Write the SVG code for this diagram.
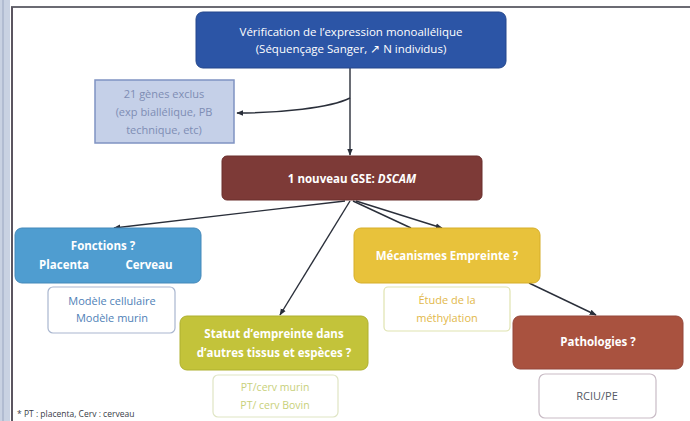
<svg xmlns="http://www.w3.org/2000/svg" width="690" height="421" viewBox="0 0 690 421">
<defs>
<marker id="ah" viewBox="0 0 10 10" refX="9" refY="5" markerWidth="7" markerHeight="7" orient="auto-start-reverse" markerUnits="userSpaceOnUse">
<path d="M0,1 L10,5 L0,9 Z" fill="#2a2f3a"/>
</marker>
<style>
text{font-family:"Open Sans","Liberation Sans",sans-serif;text-anchor:middle}
.w{fill:#ffffff;font-weight:bold;font-size:11.5px}
.c{stroke:#2a2f3a;stroke-width:1.4;fill:none}
</style>
</defs>
<rect x="0" y="0" width="690" height="421" fill="#ffffff"/>
<rect x="0" y="0" width="10" height="421" fill="#c9d2e2"/>
<line x1="3" y1="0" x2="3" y2="421" stroke="#9aa6c0" stroke-width="1"/>
<line x1="11" y1="7" x2="690" y2="7" stroke="#6b6b73" stroke-width="2"/>
<line x1="12" y1="7" x2="12" y2="421" stroke="#5b5560" stroke-width="2"/>

<g id="connectors">
<line class="c" x1="350" y1="68" x2="350" y2="155" marker-end="url(#ah)"/>
<path class="c" d="M350,98 C330,108 280,113 237,113" marker-end="url(#ah)"/>
<line class="c" x1="345" y1="201" x2="114" y2="228" marker-end="url(#ah)"/>
<line class="c" x1="350" y1="201" x2="280" y2="315" marker-end="url(#ah)"/>
<line class="c" x1="353" y1="201" x2="411" y2="228"/>
<line class="c" x1="356" y1="201" x2="442" y2="228" marker-end="url(#ah)"/>
<line class="c" x1="529" y1="283" x2="596" y2="315" marker-end="url(#ah)"/>
</g>

<g id="verification">
<rect x="196" y="12" width="310" height="56" rx="7" fill="#2c55a6" stroke="#24478c" stroke-width="1"/>
<text class="w" x="351" y="36" style="font-weight:normal">Vérification de l’expression monoallélique</text>
<text class="w" x="351" y="53" style="font-weight:normal">(Séquençage Sanger, ↗ N individus)</text>
</g>

<g id="exclus">
<rect x="95" y="80" width="139" height="63" fill="#c5d0e8" stroke="#7f93c2" stroke-width="1.5"/>
<text x="164" y="98" font-size="11" fill="#7e8db4">21 gènes exclus</text>
<text x="164" y="116" font-size="11" fill="#7e8db4">(exp biallélique, PB</text>
<text x="164" y="134" font-size="11" fill="#7e8db4">technique, etc)</text>
</g>

<g id="gse">
<rect x="222" y="156" width="260" height="44" rx="5" fill="#7d3a37" stroke="#6a2e2c" stroke-width="1"/>
<text class="w" x="352" y="183">1 nouveau GSE: <tspan font-style="italic">DSCAM</tspan></text>
</g>

<g id="fonctions">
<rect x="15" y="228" width="186" height="55" rx="7" fill="#4f9dd0" stroke="#4589ba" stroke-width="1"/>
<text class="w" x="103" y="250">Fonctions ?</text>
<text class="w" x="64" y="269">Placenta</text>
<text class="w" x="149" y="269">Cerveau</text>
</g>

<g id="modele">
<rect x="48" y="287" width="127" height="46" rx="5" fill="#ffffff" stroke="#a9b6cf" stroke-width="1.2"/>
<text x="112" y="305" font-size="11" fill="#4f7fb7">Modèle cellulaire</text>
<text x="112" y="322" font-size="11" fill="#4f7fb7">Modèle murin</text>
</g>

<g id="mecanismes">
<rect x="354" y="228" width="186" height="55" rx="7" fill="#e8c23b" stroke="#d6ae2a" stroke-width="1"/>
<text class="w" x="447" y="260">Mécanismes Empreinte ?</text>
</g>

<g id="etude">
<rect x="384" y="287" width="126" height="44" rx="4" fill="#ffffff" stroke="#dfe3b0" stroke-width="1.2"/>
<text x="447" y="304" font-size="11" fill="#e2b84a">Étude de la</text>
<text x="447" y="322" font-size="11" fill="#e2b84a">méthylation</text>
</g>

<g id="statut">
<rect x="180" y="316" width="188" height="54" rx="7" fill="#c3c33a" stroke="#aeb02e" stroke-width="1"/>
<text class="w" x="274" y="338">Statut d’empreinte dans</text>
<text class="w" x="274" y="357">d’autres tissus et espèces ?</text>
</g>

<g id="pt">
<rect x="213" y="375" width="125" height="42" rx="5" fill="#ffffff" stroke="#dfe5c4" stroke-width="1.2"/>
<text x="275" y="391" font-size="10.5" fill="#c8d07a">PT/cerv murin</text>
<text x="275" y="409" font-size="10.5" fill="#c8d07a">PT/ cerv Bovin</text>
</g>

<g id="pathologies">
<rect x="513" y="316" width="170" height="53" rx="7" fill="#a9523f" stroke="#94473a" stroke-width="1"/>
<text class="w" x="598" y="346">Pathologies ?</text>
</g>

<g id="rciu">
<rect x="539" y="374" width="117" height="44" rx="6" fill="#ffffff" stroke="#c9bcc6" stroke-width="1.2"/>
<text x="597" y="400" font-size="11" fill="#555a66">RCIU/PE</text>
</g>

<text x="17" y="417" font-size="8.5" fill="#3a3d48" style="text-anchor:start">* PT : placenta, Cerv : cerveau</text>
</svg>
